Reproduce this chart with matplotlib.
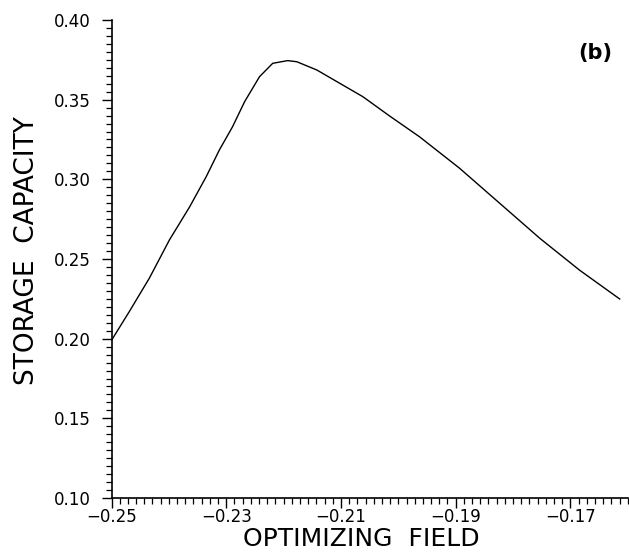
import matplotlib
matplotlib.use('Agg')
import matplotlib.pyplot as plt
from matplotlib.ticker import MultipleLocator

# curve
field = [-0.2500, -0.2469, -0.2434, -0.2399, -0.2364, -0.2335, -0.2312, -0.2289,
         -0.2268, -0.2242, -0.2219, -0.2193, -0.2177, -0.2142, -0.2097, -0.2062,
         -0.2015, -0.1963, -0.1893, -0.1823, -0.1753, -0.1684, -0.1614]
capacity = [0.199, 0.217, 0.238, 0.262, 0.2826, 0.3016, 0.3184, 0.333,
            0.3487, 0.3644, 0.3728, 0.3745, 0.3738, 0.3686, 0.3592, 0.3519,
            0.3397, 0.3267, 0.3069, 0.2849, 0.2629, 0.2430, 0.2249]

x_ticks = [-0.25, -0.23, -0.21, -0.19, -0.17]
x_labels = ['\u22120.25', '\u22120.23', '\u22120.21', '\u22120.19', '\u22120.17']
y_ticks = [0.10, 0.15, 0.20, 0.25, 0.30, 0.35, 0.40]
y_labels = ['0.10', '0.15', '0.20', '0.25', '0.30', '0.35', '0.40']

plt.rcParams['font.family'] = ['DejaVu Sans']

fig = plt.figure(figsize=(6.29, 5.52), dpi=100)
ax = fig.add_axes([0.1773, 0.0978, 0.8207, 0.866])

ax.plot(field, capacity, color='black', lw=1.0)

ax.set_xlim(-0.25, -0.16)
ax.set_ylim(0.10, 0.40)
ax.set_xticks(x_ticks, x_labels)
ax.set_yticks(y_ticks, y_labels)
ax.xaxis.set_minor_locator(MultipleLocator(0.02 / 14))
ax.yaxis.set_minor_locator(MultipleLocator(0.005))

for s in ['top', 'right']:
    ax.spines[s].set_visible(False)
for s in ['left', 'bottom']:
    ax.spines[s].set_linewidth(1.2)

ax.tick_params(axis='both', which='major', direction='out', length=7, width=1.0,
               labelsize=12)
ax.tick_params(axis='both', which='minor', direction='out', length=4.5, width=0.9)
ax.tick_params(axis='x', which='major', pad=0)
ax.tick_params(axis='y', which='major', pad=8)

ax.set_xlabel('OPTIMIZING  FIELD', fontsize=18)
ax.set_ylabel('STORAGE  CAPACITY', fontsize=19)
ax.xaxis.set_label_coords(0.483, -0.06)
ax.yaxis.set_label_coords(-0.138, 0.517)

ax.text(0.938, 0.931, '(b)', transform=ax.transAxes, fontsize=15,
        fontweight='bold', ha='center', va='center')

plt.savefig('out.png', dpi=100)
